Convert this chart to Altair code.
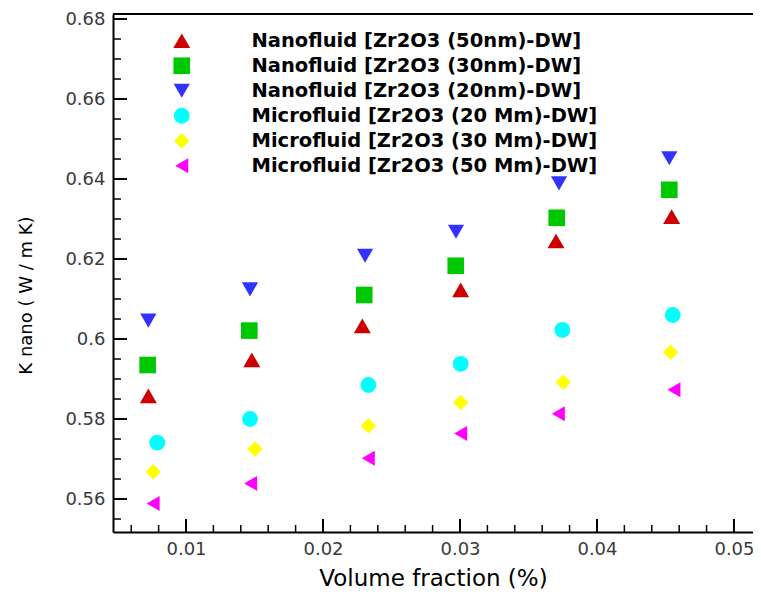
import altair as alt
import pandas as pd

# ---- data ----
series = [
    "Nanofluid [Zr2O3 (50nm)-DW]",
    "Nanofluid [Zr2O3 (30nm)-DW]",
    "Nanofluid [Zr2O3 (20nm)-DW]",
    "Microfluid [Zr2O3 (20 Mm)-DW]",
    "Microfluid [Zr2O3 (30 Mm)-DW]",
    "Microfluid [Zr2O3 (50 Mm)-DW]",
]
colors = ["#cc0000", "#00c800", "#3232ff", "#00ffff", "#ffff00", "#ff00ff"]
shapes = ["triangle-up", "square", "triangle-down", "circle", "diamond", "triangle-left"]
sizes = [289, 225, 324, 441, 372, 225]

x_nano50 = [0.00725, 0.0148, 0.02287, 0.03005, 0.03701, 0.04545]
y_nano50 = [0.5858, 0.5948, 0.6033, 0.6123, 0.6245, 0.6306]
x_nano30 = [0.00720, 0.01462, 0.02301, 0.02969, 0.03706, 0.04528]
y_nano30 = [0.5935, 0.6021, 0.6110, 0.6183, 0.6303, 0.6373]
x_nano20 = [0.00725, 0.01467, 0.02307, 0.02971, 0.03723, 0.04528]
y_nano20 = [0.6046, 0.6124, 0.6208, 0.6268, 0.6389, 0.6452]
x_micro20 = [0.00790, 0.01467, 0.02331, 0.03005, 0.03747, 0.04553]
y_micro20 = [0.5741, 0.5800, 0.5885, 0.5938, 0.6023, 0.6060]
x_micro30 = [0.00760, 0.01504, 0.02331, 0.03005, 0.03754, 0.04538]
y_micro30 = [0.5668, 0.5725, 0.5783, 0.5841, 0.5892, 0.5967]
x_micro50 = [0.00760, 0.01472, 0.02331, 0.03005, 0.03718, 0.04562]
y_micro50 = [0.5589, 0.5639, 0.5702, 0.5764, 0.5813, 0.5873]

x_major = [0.01, 0.02, 0.03, 0.04, 0.05]
x_minor = [0.006, 0.008, 0.012, 0.014, 0.016, 0.018, 0.022, 0.024, 0.026, 0.028,
           0.032, 0.034, 0.036, 0.038, 0.042, 0.044, 0.046, 0.048]
y_major = [0.56, 0.58, 0.60, 0.62, 0.64, 0.66, 0.68]
y_minor = [0.555, 0.565, 0.57, 0.575, 0.585, 0.59, 0.595, 0.605, 0.61, 0.615,
           0.625, 0.63, 0.635, 0.645, 0.65, 0.655, 0.665, 0.67, 0.675]

xs = [x_nano50, x_nano30, x_nano20, x_micro20, x_micro30, x_micro50]
ys = [y_nano50, y_nano30, y_nano20, y_micro20, y_micro30, y_micro50]
rows = []
for name, xv, yv in zip(series, xs, ys):
    for a, b in zip(xv, yv):
        rows.append({"series": name, "x": a, "y": b})
df = pd.DataFrame(rows)

W, H = 640, 518
FONT = "DejaVu Sans"

xscale = alt.Scale(domain=[0.00467, 0.05139], nice=False, zero=False)
yscale = alt.Scale(domain=[0.55175, 0.68125], nice=False, zero=False)

xaxis = alt.Axis(title="Volume fraction (%)", values=x_major, format="~g",
                 ticks=False, tickSize=0, grid=False, domainColor="black", domainWidth=2,
                 labelFont=FONT, labelFontSize=18, labelColor="#3a3a3a", labelPadding=8,
                 titleFont=FONT, titleFontSize=23, titleFontWeight="normal", titleColor="black",
                 titleX=320, titleY=46, titleBaseline="middle")
yaxis = alt.Axis(title="K nano ( W / m K)", values=y_major, format="~g",
                 ticks=False, tickSize=0, grid=False, domainColor="black", domainWidth=2,
                 labelFont=FONT, labelFontSize=18, labelColor="#3a3a3a", labelPadding=8,
                 titleFont=FONT, titleFontSize=18, titleFontWeight="normal", titleColor="black",
                 titleX=-87, titleY=281, titleBaseline="middle")

leg = alt.Legend(title=None, orient="none", legendX=59, legendY=17, padding=0,
                 labelFont=FONT, labelFontWeight="bold", labelFontSize=19.5, labelColor="black",
                 labelOffset=60, labelLimit=0, rowPadding=4, symbolStrokeWidth=0,
                 symbolOpacity=1)

points = alt.Chart(df).mark_point(filled=True, opacity=1, strokeWidth=0).encode(
    x=alt.X("x:Q", scale=xscale, axis=xaxis),
    y=alt.Y("y:Q", scale=yscale, axis=yaxis),
    color=alt.Color("series:N", scale=alt.Scale(domain=series, range=colors), legend=leg),
    shape=alt.Shape("series:N", scale=alt.Scale(domain=series, range=shapes), legend=leg),
    size=alt.Size("series:N", scale=alt.Scale(domain=series, range=sizes), legend=leg),
)

xmaj = alt.Chart(pd.DataFrame({"x": x_major})).mark_rule(color="black", strokeWidth=2).encode(
    x=alt.X("x:Q", scale=xscale, axis=xaxis), y=alt.value(H), y2=alt.value(H - 13))
xmin = alt.Chart(pd.DataFrame({"x": x_minor})).mark_rule(color="black", strokeWidth=1.5).encode(
    x=alt.X("x:Q", scale=xscale, axis=xaxis), y=alt.value(H), y2=alt.value(H - 7))
ymaj = alt.Chart(pd.DataFrame({"y": y_major})).mark_rule(color="black", strokeWidth=2).encode(
    y=alt.Y("y:Q", scale=yscale, axis=yaxis), x=alt.value(0), x2=alt.value(14))
ymin = alt.Chart(pd.DataFrame({"y": y_minor})).mark_rule(color="black", strokeWidth=1.5).encode(
    y=alt.Y("y:Q", scale=yscale, axis=yaxis), x=alt.value(0), x2=alt.value(8))
top = alt.Chart(pd.DataFrame({"a": [0]})).mark_rule(color="black", strokeWidth=2).encode(
    x=alt.value(0), x2=alt.value(W), y=alt.value(0))

chart = alt.layer(xmaj, xmin, ymaj, ymin, top, points).properties(
    width=W, height=H,
    autosize=alt.AutoSizeParams(type="none"),
    padding={"left": 105, "top": 6, "right": 0, "bottom": 57},
).configure_view(stroke=None).configure(background="white")

chart.save("out.html", embed_options={"renderer": "svg", "actions": False})
